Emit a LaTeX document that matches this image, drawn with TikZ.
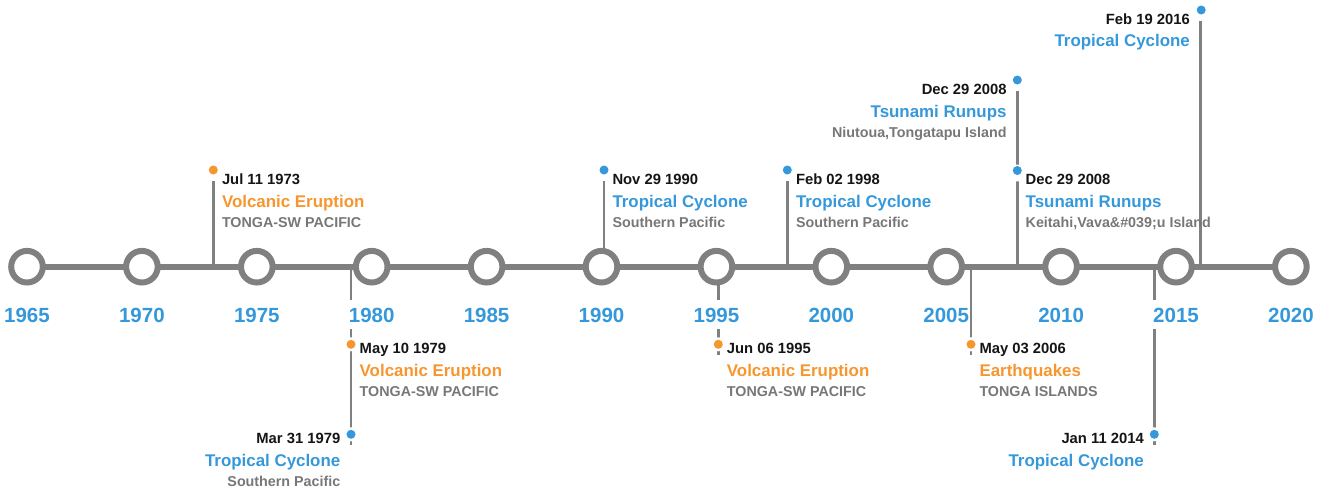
\documentclass[tikz,border=0pt]{standalone}
\usepackage{fontspec}
\setmainfont{Liberation Sans}
\definecolor{tlblue}{HTML}{3498DB}
\definecolor{tlorange}{HTML}{F7962E}
\definecolor{tlgray}{HTML}{808080}
\definecolor{subgray}{HTML}{777777}
\definecolor{dategray}{HTML}{151515}
\begin{document}
\begin{tikzpicture}[x=1pt,y=-1pt,
  axisline/.style={line width=6pt,draw=tlgray},
  stem/.style={line width=2.8pt,draw=tlgray},
  yearcirc/.style={circle,draw=tlgray,line width=6pt,fill=white,minimum size=31.6pt,inner sep=0pt},
  yearlbl/.style={anchor=base,fill=white,inner xsep=0pt,inner ysep=7pt,text height=15pt,text depth=0pt,text=tlblue,font=\fontsize{20.5}{22}\selectfont\bfseries},
  ring/.style={circle,fill=white,minimum size=14pt,inner sep=0pt},
  dotb/.style={circle,fill=tlblue,minimum size=9pt,inner sep=0pt},
  doto/.style={circle,fill=tlorange,minimum size=9pt,inner sep=0pt},
  evdate/.style={inner sep=0pt,text=dategray,font=\fontsize{14.8}{16}\selectfont\bfseries},
  evttlb/.style={inner sep=0pt,text=tlblue,font=\fontsize{16.9}{18}\selectfont\bfseries},
  evttlo/.style={inner sep=0pt,text=tlorange,font=\fontsize{16.9}{18}\selectfont\bfseries},
  evsub/.style={inner sep=0pt,text=subgray,font=\fontsize{14.3}{16}\selectfont\bfseries},
  lft/.style={anchor=base west},
  rgt/.style={anchor=base east}
]
\useasboundingbox (0,0) rectangle (1325,490);

% axis
\coordinate (axL) at (27,266.7);
\coordinate (axR) at (1291,266.7);
\draw[axisline] (axL) -- (axR);

% stems (top)
\coordinate (s1a) at (213.3,181); \coordinate (s1b) at (213.3,267);
\coordinate (s2a) at (604,181);   \coordinate (s2b) at (604,267);
\coordinate (s3a) at (787.3,181); \coordinate (s3b) at (787.3,267);
\coordinate (s4a) at (1017.3,91); \coordinate (s4b) at (1017.3,267);
\coordinate (s5a) at (1200.7,20.7); \coordinate (s5b) at (1200.7,267);
% stems (bottom)
\coordinate (s6a) at (351,267);   \coordinate (s6b) at (351,445);
\coordinate (s7a) at (718.3,267); \coordinate (s7b) at (718.3,355);
\coordinate (s8a) at (971,267);   \coordinate (s8b) at (971,355);
\coordinate (s9a) at (1154.3,267); \coordinate (s9b) at (1154.3,445);
\foreach \s in {1,...,9} {\draw[stem] (s\s a) -- (s\s b);}

% year circles and labels
\foreach \i/\yr in {0/1965,1/1970,2/1975,3/1980,4/1985,5/1990,6/1995,7/2000,8/2005,9/2010,10/2015,11/2020} {
  \node[yearcirc] (c\yr) at ({27+\i*114.9},266.7) {};
  \node[yearlbl] (y\yr) at ({27+\i*114.9},322) {\yr};
}

% dots
\node[ring] (r1) at (213.3,170) {};   \node[doto] (d1) at (213.3,170) {};
\node[ring] (r2) at (604,170) {};     \node[dotb] (d2) at (604,170) {};
\node[ring] (r3) at (787.3,170) {};   \node[dotb] (d3) at (787.3,170) {};
\node[ring,minimum size=17pt] (r4) at (1017.3,173) {}; \node[dotb] (d4) at (1017.3,170.5) {};
\node[ring] (r5) at (1017.3,80) {};   \node[dotb] (d5) at (1017.3,80) {};
\node[ring] (r6) at (1201.2,10) {};   \node[dotb] (d6) at (1201.2,10) {};
\node[ring] (r7) at (351,344.3) {};   \node[doto] (d7) at (351,344.3) {};
\node[ring] (r8) at (351,434.3) {};   \node[dotb] (d8) at (351,434.3) {};
\node[ring] (r9) at (718.3,344.3) {}; \node[doto] (d9) at (718.3,344.3) {};
\node[ring] (r10) at (971,344.3) {};  \node[doto] (d10) at (971,344.3) {};
\node[ring] (r11) at (1154.3,434.3) {}; \node[dotb] (d11) at (1154.3,434.3) {};

% event texts: top, left aligned
\node[evdate,lft] (t1a) at (221.8,184) {Jul 11 1973};
\node[evttlo,lft] (t1b) at (221.8,207) {Volcanic Eruption};
\node[evsub,lft]  (t1c) at (221.8,227) {TONGA-SW PACIFIC};

\node[evdate,lft] (t2a) at (612.3,184) {Nov 29 1990};
\node[evttlb,lft] (t2b) at (612.3,207) {Tropical Cyclone};
\node[evsub,lft]  (t2c) at (612.3,227) {Southern Pacific};

\node[evdate,lft] (t3a) at (795.8,184) {Feb 02 1998};
\node[evttlb,lft] (t3b) at (795.8,207) {Tropical Cyclone};
\node[evsub,lft]  (t3c) at (795.8,227) {Southern Pacific};

\node[evdate,lft] (t4a) at (1025.5,184) {Dec 29 2008};
\node[evttlb,lft] (t4b) at (1025.5,207) {Tsunami Runups};
\node[evsub,lft]  (t4c) at (1025.5,227) {Keitahi,Vava\&\#039;u Island};

% top, right aligned
\node[evdate,rgt] (t5a) at (1006.7,94) {Dec 29 2008};
\node[evttlb,rgt] (t5b) at (1006.7,117) {Tsunami Runups};
\node[evsub,rgt]  (t5c) at (1006.7,137) {Niutoua,Tongatapu Island};

\node[evdate,rgt] (t6a) at (1190,24) {Feb 19 2016};
\node[evttlb,rgt] (t6b) at (1190,46) {Tropical Cyclone};

% bottom, left aligned
\node[evdate,lft] (t7a) at (359.5,353.5) {May 10 1979};
\node[evttlo,lft] (t7b) at (359.5,376.5) {Volcanic Eruption};
\node[evsub,lft]  (t7c) at (359.5,396.5) {TONGA-SW PACIFIC};

\node[evdate,lft] (t9a) at (726.7,353.5) {Jun 06 1995};
\node[evttlo,lft] (t9b) at (726.7,376.5) {Volcanic Eruption};
\node[evsub,lft]  (t9c) at (726.7,396.5) {TONGA-SW PACIFIC};

\node[evdate,lft] (t10a) at (979.3,353.5) {May 03 2006};
\node[evttlo,lft] (t10b) at (979.3,376.5) {Earthquakes};
\node[evsub,lft]  (t10c) at (979.3,396.5) {TONGA ISLANDS};

% bottom, right aligned
\node[evdate,rgt] (t8a) at (340.5,443.5) {Mar 31 1979};
\node[evttlb,rgt] (t8b) at (340.5,466.5) {Tropical Cyclone};
\node[evsub,rgt]  (t8c) at (340.5,486.5) {Southern Pacific};

\node[evdate,rgt] (t11a) at (1144,443.5) {Jan 11 2014};
\node[evttlb,rgt] (t11b) at (1144,466.5) {Tropical Cyclone};
\end{tikzpicture}
\end{document}
